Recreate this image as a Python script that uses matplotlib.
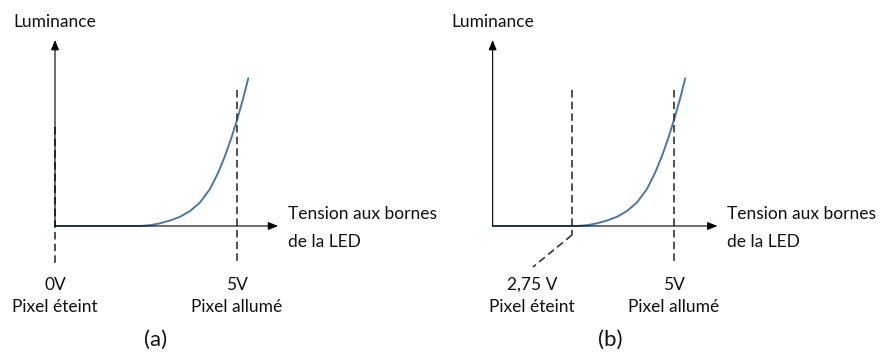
import matplotlib
matplotlib.use("Agg")
import matplotlib.pyplot as plt

plt.rcParams['font.family'] = ['Lato', 'DejaVu Sans']

# ---- data -------------------------------------------------------------
# (a) voltage / luminance (arbitrary units) of the LED response
volt_a = [0.0, 2.335, 2.610, 2.885, 3.159, 3.434, 3.709, 3.984, 4.258,
          4.478, 4.670, 4.835, 5.000, 5.165, 5.310]
lum_a = [0.0, 0.0, 0.005, 0.018, 0.037, 0.062, 0.101, 0.159, 0.250,
         0.358, 0.473, 0.588, 0.716, 0.858, 0.998]

# (b) same response, with the origin of the axis at about 1 V
volt_b = [1.0, 2.861, 3.082, 3.302, 3.523, 3.744, 3.964, 4.185, 4.405,
          4.582, 4.736, 4.869, 5.000, 5.134, 5.250]
lum_b = [0.0, 0.0, 0.005, 0.018, 0.037, 0.062, 0.101, 0.159, 0.250,
         0.358, 0.473, 0.588, 0.716, 0.858, 0.998]

off_a, on_a = 0.0, 5.0
off_b, on_b = 2.75, 5.0
labels_a = ["0V", "5V"]
labels_b = ["2,75 V", "5V"]
state_labels = ["Pixel éteint", "Pixel allumé"]
x_title = ["Tension aux bornes", "de la LED"]
y_title = "Luminance"
panel_tags = ["(a)", "(b)"]

CURVE = "#4a79a9"
DASH = "#333333"

fig = plt.figure(figsize=(8.82, 3.54), dpi=100)
ax_a = fig.add_axes([0.0, 0.0, 0.5, 1.0])
ax_b = fig.add_axes([0.5, 0.0, 0.5, 1.0])

ax_a.set_xlim(-1.511, 10.604)
ax_b.set_xlim(-0.139, 9.590)
for ax in (ax_a, ax_b):
    ax.set_ylim(-0.865, 1.527)
    ax.axis("off")

arrow = dict(arrowstyle="-|>,head_length=0.6,head_width=0.24",
             color="black", lw=0.8, shrinkA=0, shrinkB=0)
dash_kw = dict(color=DASH, lw=1.2, dashes=(4.5, 2.5))
txt_kw = dict(fontsize=12.5, color="#111111", va="baseline")

# baselines of the text rows (luminance units)
Y_TITLE = 1.347
Y_VOLT = -0.432
Y_STATE = -0.579
Y_X1, Y_X2 = 0.044, -0.139
Y_TAG = -0.77


def frame(ax, x0, x_end, x_text):
    ax.annotate("", xy=(x0, 1.257), xytext=(x0, 0.0), arrowprops=arrow)
    ax.annotate("", xy=(x_end, 0.0), xytext=(x0, 0.0), arrowprops=arrow)
    ax.text(x0, Y_TITLE, y_title, ha="center", **txt_kw)
    ax.text(x_text, Y_X1, x_title[0], ha="left", **txt_kw)
    ax.text(x_text, Y_X2, x_title[1], ha="left", **txt_kw)


def marks(ax, x_off, x_on, lab_x, labels):
    ax.text(lab_x, Y_VOLT, labels[0], ha="center", **txt_kw)
    ax.text(lab_x, Y_STATE, state_labels[0], ha="center", **txt_kw)
    ax.text(x_on, Y_VOLT, labels[1], ha="center", **txt_kw)
    ax.text(x_on, Y_STATE, state_labels[1], ha="center", **txt_kw)


# (a)
frame(ax_a, 0.0, 6.13, 6.40)
ax_a.plot(volt_a, lum_a, color=CURVE, lw=1.4, solid_capstyle="round")
ax_a.plot([off_a, off_a], [0.669, -0.264], **dash_kw)
ax_a.plot([on_a, on_a], [0.919, -0.264], **dash_kw)
marks(ax_a, off_a, on_a, off_a, labels_a)
ax_a.text(2.75, Y_TAG, panel_tags[0], ha="center", va="center",
          fontsize=16, color="#111111")

# (b)
frame(ax_b, 1.0, 5.96, 6.17)
ax_b.plot(volt_b, lum_b, color=CURVE, lw=1.4, solid_capstyle="round")
ax_b.plot([off_b, off_b], [0.919, -0.061], **dash_kw)
ax_b.plot([off_b, 1.89], [-0.061, -0.277], **dash_kw)
ax_b.plot([on_b, on_b], [0.919, -0.250], **dash_kw)
marks(ax_b, off_b, on_b, 1.87, labels_b)
ax_b.text(3.59, Y_TAG, panel_tags[1], ha="center", va="center",
          fontsize=16, color="#111111")

fig.savefig("out.png", dpi=100, facecolor="white")
